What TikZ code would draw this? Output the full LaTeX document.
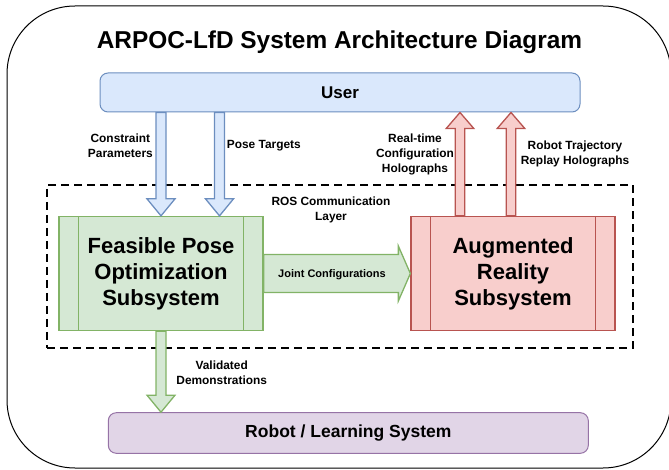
\documentclass[tikz,border=0pt]{standalone}
\usepackage{fontspec}
\setmainfont{Liberation Sans}
\usetikzlibrary{calc}
\definecolor{bluefill}{HTML}{DAE8FC}
\definecolor{bluedraw}{HTML}{6C8EBF}
\definecolor{greenfill}{HTML}{D5E8D4}
\definecolor{greendraw}{HTML}{82B366}
\definecolor{redfill}{HTML}{F8CECC}
\definecolor{reddraw}{HTML}{B85450}
\definecolor{purplefill}{HTML}{E1D5E7}
\definecolor{purpledraw}{HTML}{9673A6}
\newcommand\blkdown[3]{\draw[#1] ($(#2)+(-5,0)$) -- ($(#3)+(-5,-17)$) -- ($(#3)+(-14,-17)$) -- (#3) -- ($(#3)+(14,-17)$) -- ($(#3)+(5,-17)$) -- ($(#2)+(5,0)$) -- cycle;}
\newcommand\blkup[3]{\draw[#1] ($(#2)+(-4.8,0)$) -- ($(#3)+(-4.8,16)$) -- ($(#3)+(-13.8,16)$) -- (#3) -- ($(#3)+(13.8,16)$) -- ($(#3)+(4.8,16)$) -- ($(#2)+(4.8,0)$) -- cycle;}
\newcommand\blkright[3]{\draw[#1] ($(#2)+(0,-19)$) -- ($(#3)+(-12,-19)$) -- ($(#3)+(-12,-27.5)$) -- (#3) -- ($(#3)+(-12,27.5)$) -- ($(#3)+(-12,19)$) -- ($(#2)+(0,19)$) -- cycle;}
\begin{document}
\begin{tikzpicture}[x=1pt,y=-1pt,
  rbox/.style={draw, rounded corners=8pt, line width=1pt, inner sep=0pt},
  pbox/.style={draw, line width=1.3pt, inner sep=0pt, minimum width=204pt, minimum height=114pt, align=center,
     font=\fontsize{22}{26}\selectfont\bfseries},
  lbl/.style={inner sep=0pt, align=center, font=\fontsize{11.9}{15}\selectfont\bfseries},
  barrow/.style={draw=bluedraw, fill=bluefill, line width=1.3pt, line join=miter},
  rarrow/.style={draw=reddraw, fill=redfill, line width=1.3pt, line join=miter},
  garrow/.style={draw=greendraw, fill=greenfill, line width=1.3pt, line join=miter}]
\useasboundingbox (0,0) rectangle (669,470);
% outer frame
\draw[line width=1pt, rounded corners=68pt] (7,6) rectangle (671,468);
% title
\node[inner sep=0pt, anchor=base, font=\fontsize{24.4}{28}\selectfont\bfseries] (title) at (339.5,49) {ARPOC-LfD System Architecture Diagram};
% ROS layer
\node[draw, dash pattern=on 8pt off 5pt, line width=2pt, minimum width=586pt, minimum height=163pt, inner sep=0pt] (ros) at (340,266.5) {};
\node[lbl] (roslbl) at (331,210) {ROS Communication\\Layer};
% boxes
\node[rbox, fill=bluefill, draw=bluedraw, minimum width=480pt, minimum height=39pt, font=\fontsize{17}{20}\selectfont\bfseries] (user) at (340,92.5) {User};
\node[rbox, fill=purplefill, draw=purpledraw, minimum width=480pt, minimum height=40.6pt, font=\fontsize{17.5}{20}\selectfont\bfseries] (rl) at (348.3,433) {Robot / Learning System};
\node[pbox, fill=greenfill, draw=greendraw] (fp) at (161,273.5) {Feasible Pose\\Optimization\\Subsystem};
\draw[greendraw, line width=1.3pt] ($(fp.north west)+(20,0)$) -- ($(fp.south west)+(20,0)$);
\draw[greendraw, line width=1.3pt] ($(fp.north east)+(-20,0)$) -- ($(fp.south east)+(-20,0)$);
\node[pbox, fill=redfill, draw=reddraw] (ar) at (513,273.5) {Augmented\\Reality\\Subsystem};
\draw[reddraw, line width=1.3pt] ($(ar.north west)+(20,0)$) -- ($(ar.south west)+(20,0)$);
\draw[reddraw, line width=1.3pt] ($(ar.north east)+(-20,0)$) -- ($(ar.south east)+(-20,0)$);
% connector coordinates
\coordinate (a1t) at (fp.north);
\coordinate (a1s) at (user.south -| a1t);
\coordinate (a2t) at ($(fp.north)+(58.5,0)$);
\coordinate (a2s) at (user.south -| a2t);
\coordinate (r1s) at ($(ar.north)+(-53,0)$);
\coordinate (r1t) at (user.south -| r1s);
\coordinate (r2s) at ($(ar.north)+(-2,0)$);
\coordinate (r2t) at (user.south -| r2s);
\coordinate (gs) at (fp.south);
\coordinate (gt) at (rl.north -| gs);
\coordinate (js) at (fp.east);
\coordinate (jt) at (ar.west |- js);
% arrows
\blkdown{barrow}{a1s}{a1t}
\blkdown{barrow}{a2s}{a2t}
\blkup{rarrow}{r1s}{r1t}
\blkup{rarrow}{r2s}{r2t}
\blkdown{garrow}{gs}{gt}
\blkright{garrow}{js}{jt}
% labels
\node[lbl, anchor=east] (l1) at (153,145.4) {Constraint\\Parameters};
\node[lbl, anchor=west] (l2) at (226.7,146) {Pose Targets};
\node[lbl] (l3) at (415,154) {Real-time\\Configuration\\Holographs};
\node[lbl] (l4) at (575,154) {Robot Trajectory\\Replay Holographs};
\node[lbl, font=\fontsize{11}{13}\selectfont\bfseries] (l5) at (332,275) {Joint Configurations};
\node[lbl] (l6) at (221.7,373) {Validated\\Demonstrations};
\end{tikzpicture}
\end{document}
